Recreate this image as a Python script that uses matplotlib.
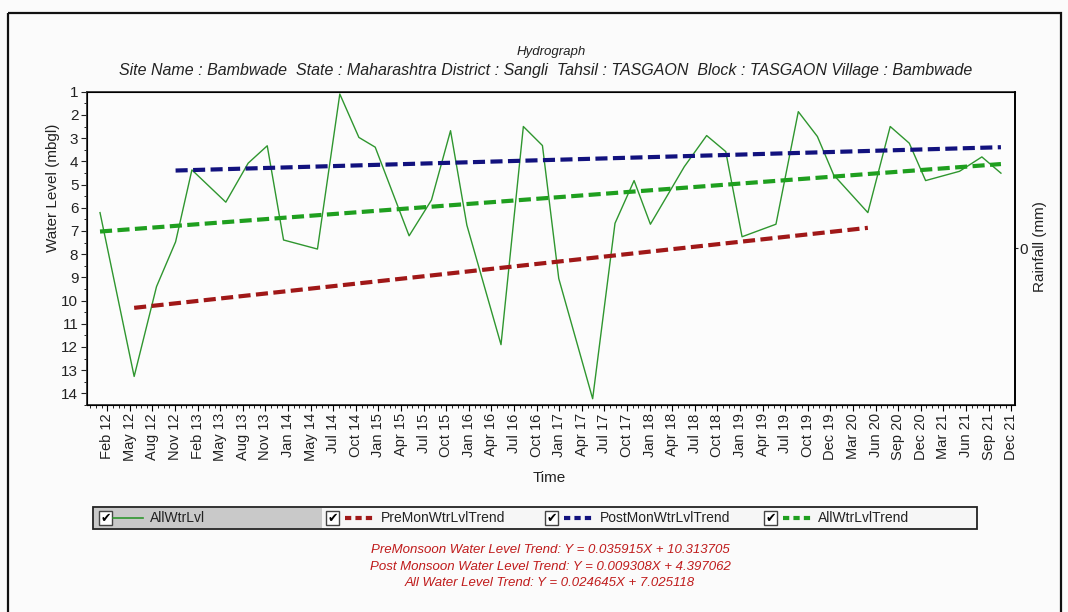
import matplotlib
matplotlib.use('Agg')
from matplotlib import pyplot as plt
import matplotlib.dates as mdates
from matplotlib.patches import Rectangle
from matplotlib.ticker import FixedLocator, MultipleLocator
import pandas as pd
import numpy as np

plt.rcParams['font.family'] = ['Liberation Sans', 'DejaVu Sans']

# observation dates (Jan / May / Aug / Nov rounds) and water levels (mbgl)
obs_dates = ['2012-01-15', '2012-05-30', '2012-08-27', '2012-11-11',
             '2013-01-15', '2013-05-30', '2013-08-27', '2013-11-11',
             '2014-01-15', '2014-05-30', '2014-08-27', '2014-11-11',
             '2015-01-15', '2015-05-30', '2015-08-27', '2015-11-11',
             '2016-01-15', '2016-05-30', '2016-08-27', '2016-11-11',
             '2017-01-15', '2017-05-30', '2017-08-27', '2017-11-11',
             '2018-01-15', '2018-05-30', '2018-08-27', '2018-11-11',
             '2019-01-15', '2019-05-30', '2019-08-27', '2019-11-11',
             '2020-01-15', '2020-05-30', '2020-08-27', '2020-11-11',
             '2021-01-15', '2021-05-30', '2021-08-27', '2021-11-11']
water_level = [6.21, 13.27, 9.40, 7.47, 4.37, 5.76, 4.08, 3.33,
               7.39, 7.78, 1.10, 2.97, 3.39, 7.21, 5.67, 2.68,
               6.75, 11.90, 2.50, 3.32, 9.05, 14.23, 6.67, 4.83,
               6.71, 4.23, 2.89, 3.58, 7.25, 6.71, 1.86, 2.93,
               4.59, 6.21, 2.50, 3.22, 4.83, 4.43, 3.81, 4.51]

# trend lines, end points
pre_dates = ['2012-05-30', '2020-05-30']
pre_vals = [10.314, 6.866]
post_dates = ['2012-11-11', '2021-11-11']
post_vals = [4.397, 3.392]
all_dates = ['2012-01-15', '2021-11-11']
all_vals = [7.025, 4.117]

tick_labels = ['Feb 12', 'May 12', 'Aug 12', 'Nov 12', 'Feb 13', 'May 13',
               'Aug 13', 'Nov 13', 'Jan 14', 'May 14', 'Jul 14', 'Oct 14',
               'Jan 15', 'Apr 15', 'Jul 15', 'Oct 15', 'Jan 16', 'Apr 16',
               'Jul 16', 'Oct 16', 'Jan 17', 'Apr 17', 'Jul 17', 'Oct 17',
               'Jan 18', 'Apr 18', 'Jul 18', 'Oct 18', 'Jan 19', 'Apr 19',
               'Jul 19', 'Oct 19', 'Dec 19', 'Mar 20', 'Jun 20', 'Sep 20',
               'Dec 20', 'Mar 21', 'Jun 21', 'Sep 21', 'Dec 21']

equations = ['PreMonsoon Water Level Trend: Y = 0.035915X + 10.313705',
             'Post Monsoon Water Level Trend: Y = 0.009308X + 4.397062',
             'All Water Level Trend: Y = 0.024645X + 7.025118']

legend_names = ['AllWtrLvl', 'PreMonWtrLvlTrend', 'PostMonWtrLvlTrend',
                'AllWtrLvlTrend']

c_line = '#2f962f'
c_pre = '#a01818'
c_post = '#12127e'
c_all = '#1f9f1f'
dash = (2.9, 1.3)

W, H = 1068, 612
fig = plt.figure(figsize=(W / 100, H / 100), dpi=100, facecolor='#fbfbfb')

ax = fig.add_axes([86.7 / W, 1 - 405 / H, (1015 - 86.7) / W, (405 - 91.7) / H])
ax.set_facecolor('#fcfcfc')

x_obs = mdates.date2num(pd.to_datetime(obs_dates))
ax.plot(x_obs, water_level, color=c_line, lw=1.0)
ax.plot(mdates.date2num(pd.to_datetime(pre_dates)), pre_vals, color=c_pre,
        lw=3.0, dashes=dash, dash_capstyle='butt')
ax.plot(mdates.date2num(pd.to_datetime(post_dates)), post_vals, color=c_post,
        lw=3.0, dashes=dash, dash_capstyle='butt')
ax.plot(mdates.date2num(pd.to_datetime(all_dates)), all_vals, color=c_all,
        lw=3.0, dashes=dash, dash_capstyle='butt')

ax.set_xlim(mdates.date2num(pd.Timestamp('2011-11-23')),
            mdates.date2num(pd.Timestamp('2022-01-06')))
ax.set_ylim(14.5, 1)

# evenly spaced date ticks, 90 days apart
t0 = mdates.date2num(pd.Timestamp('2012-02-13'))
major = [t0 + 90 * k for k in range(len(tick_labels))]
minor = [t0 - 90 + 22.5 * k for k in range(4 * len(tick_labels) + 6)]
ax.xaxis.set_major_locator(FixedLocator(major))
ax.xaxis.set_minor_locator(FixedLocator(minor))
ax.set_xticklabels(tick_labels, rotation=90, fontsize=10.5, color='#222222')
ax.set_yticks(range(1, 15))
ax.yaxis.set_minor_locator(MultipleLocator(0.5))
ax.tick_params(axis='y', labelsize=11, colors='#222222', length=4, pad=2)
ax.tick_params(axis='x', length=4, pad=2)
ax.tick_params(which='minor', length=2)
for s in ax.spines.values():
    s.set_linewidth(1.3)
    s.set_color('#333333')

rax = ax.twinx()
rax.set_ylim(-1, 1)
rax.set_yticks([0])
rax.tick_params(axis='y', labelsize=11, length=2, pad=1, colors='#222222')
rax.spines['right'].set_linewidth(1.3)

# titles and labels
fig.text(551 / W, 1 - 52 / H, 'Hydrograph', ha='center', va='center',
         fontsize=9.5, style='italic', color='#222222')
fig.text(546 / W, 1 - 71 / H,
         'Site Name : Bambwade  State : Maharashtra District : Sangli  '
         'Tahsil : TASGAON  Block : TASGAON Village : Bambwade',
         ha='center', va='center', fontsize=11.5, style='italic',
         color='#222222')
fig.text(53 / W, 1 - 188 / H, 'Water Level (mbgl)', rotation=90,
         ha='center', va='center', fontsize=11, color='#222222')
fig.text(1040 / W, 1 - 247 / H, 'Rainfall (mm)', rotation=90,
         ha='center', va='center', fontsize=11, color='#222222')
fig.text(549 / W, 1 - 478 / H, 'Time', ha='center', va='center',
         fontsize=11, color='#222222')

# overlay in pixel coordinates for frame and legend
ov = fig.add_axes([0, 0, 1, 1], zorder=-1)
ov.set_xlim(0, W)
ov.set_ylim(H, 0)
ov.axis('off')
ov.add_patch(Rectangle((8, 13), 1053, 620, fill=False, lw=1.6,
                       edgecolor='#111111'))

lg = fig.add_axes([0, 0, 1, 1], zorder=5)
lg.set_xlim(0, W)
lg.set_ylim(H, 0)
lg.axis('off')
lg.patch.set_alpha(0)
lg.add_patch(Rectangle((93, 507), 884, 22, facecolor='#f6f6f6',
                       edgecolor='#222222', lw=1.3))
lg.add_patch(Rectangle((94, 508), 228, 20, facecolor='#c9c9c9',
                       edgecolor='none'))
box_x = [99, 326, 545, 764]
line_x = [(113, 143), (345, 376), (564, 593), (783, 812)]
text_x = [150, 381, 600, 818]
colors = [c_line, c_pre, c_post, c_all]
for i in range(4):
    lg.add_patch(Rectangle((box_x[i], 511), 13, 14, facecolor='white',
                           edgecolor='#444444', lw=1))
    lg.text(box_x[i] + 6.5, 518.5, '\u2714', ha='center', va='center',
            fontsize=9, family='DejaVu Sans', color='black')
    if i == 0:
        lg.plot(line_x[i], [518, 518], color=colors[i], lw=1.2)
    else:
        lg.plot(line_x[i], [518, 518], color=colors[i], lw=3.0,
                dashes=(1.5, 1.0), dash_capstyle='butt')
    lg.text(text_x[i], 518, legend_names[i], ha='left', va='center',
            fontsize=10, color='#222222')

for i, eq in enumerate(equations):
    lg.text(550, 550 + 16.5 * i, eq, ha='center', va='center', fontsize=9.5,
            style='italic', color='#c01c1c')

fig.savefig('out.png', dpi=100, facecolor=fig.get_facecolor())
